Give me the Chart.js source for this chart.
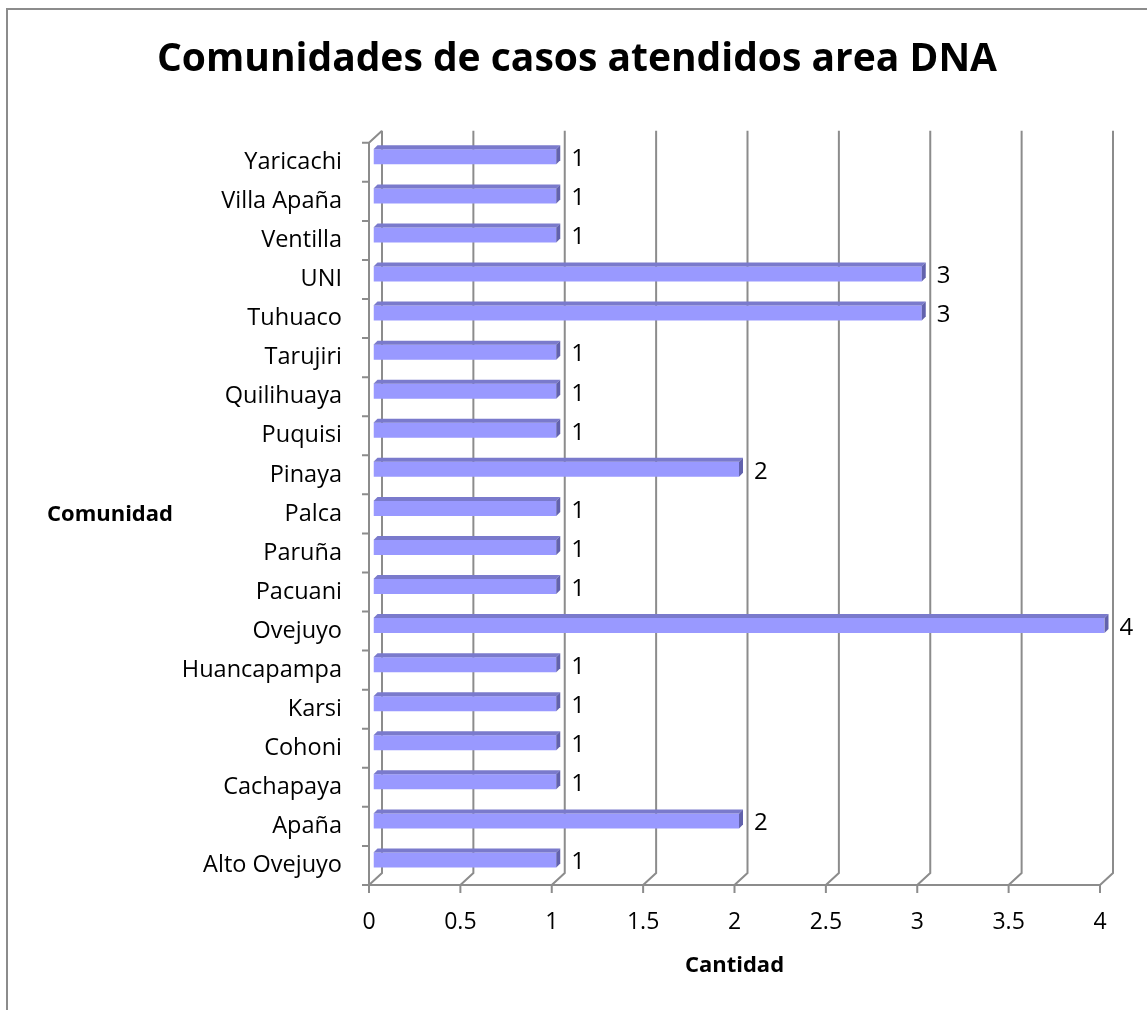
<!DOCTYPE html>
<html>
<head>
<meta charset="utf-8">
<script src="https://cdn.jsdelivr.net/npm/chart.js@4"></script>
<style>
    html, body { margin: 0; padding: 0; background: #fff; overflow: hidden; }
    #wrap { position: relative; width: 1147px; height: 1010px; }
    #frame {
        position: absolute; left: 6px; top: 8px; width: 1200px; height: 1100px;
        border-left: 2px solid #8c8c8c; border-top: 2px solid #8c8c8c;
    }
    canvas { position: absolute; left: 0; top: 0; }
</style>
</head>
<body>
<div id="wrap">
    <div id="frame"></div>
    <canvas id="dnaChart" width="1147" height="1010"></canvas>
</div>
<script>
// Datos (orden de abajo hacia arriba, como en la hoja)
const comunidades = ['Alto Ovejuyo', 'Apaña', 'Cachapaya', 'Cohoni', 'Karsi', 'Huancapampa',
    'Ovejuyo', 'Pacuani', 'Paruña', 'Palca', 'Pinaya', 'Puquisi', 'Quilihuaya',
    'Tarujiri', 'Tuhuaco', 'UNI', 'Ventilla', 'Villa Apaña', 'Yaricachi'];
const casos = [1, 2, 1, 1, 1, 1, 4, 1, 1, 1, 2, 1, 1, 1, 3, 3, 1, 1, 1];
const xTicks = [0, 0.5, 1, 1.5, 2, 2.5, 3, 3.5, 4];

const FONT = "'Open Sans', sans-serif";
const GRID = '#8c8c8c';
const DEPTH_X = 13, DEPTH_Y = 12;   // profundidad de la pared 3D
const BAR_DX = 4.5, BAR_DY = -5.5;  // barra a media profundidad
const FACE = 4;                     // grosor de la cara superior

// Paredes y lineas de division en falso 3D
const wallPlugin = {
    id: 'wall',
    beforeDatasetsDraw(chart) {
        const {ctx, chartArea: a, scales: {x}} = chart;
        ctx.save();
        ctx.strokeStyle = GRID;
        ctx.lineWidth = 2;
        ctx.beginPath();
        xTicks.forEach(v => {
            const px = x.getPixelForValue(v);
            ctx.moveTo(px + DEPTH_X, a.top - DEPTH_Y);
            ctx.lineTo(px + DEPTH_X, a.bottom - DEPTH_Y);
            ctx.lineTo(px, a.bottom);
            // marcas del eje
            ctx.moveTo(px, a.bottom);
            ctx.lineTo(px, a.bottom + 8);
        });
        // piso
        ctx.moveTo(a.left, a.bottom);
        ctx.lineTo(x.getPixelForValue(xTicks[xTicks.length - 1]), a.bottom);
        // eje vertical frontal
        ctx.moveTo(a.left, a.bottom);
        ctx.lineTo(a.left, a.top);
        ctx.lineTo(a.left + DEPTH_X, a.top - DEPTH_Y);
        // marcas de categorias
        const step = (a.bottom - a.top) / comunidades.length;
        for (let i = 0; i <= comunidades.length; i++) {
            const py = a.top + i * step;
            ctx.moveTo(a.left - 7, py);
            ctx.lineTo(a.left, py);
        }
        ctx.stroke();
        ctx.restore();

        ctx.save();
        ctx.translate(BAR_DX, BAR_DY);
    },
    afterDatasetsDraw(chart) {
        const {ctx} = chart;
        ctx.restore();
        const meta = chart.getDatasetMeta(0);
        ctx.save();
        meta.data.forEach((el, i) => {
            const {x, y, base, height} = el.getProps(['x', 'y', 'base', 'height'], true);
            const x0 = base + BAR_DX, x1 = x + BAR_DX;
            const top = y - height / 2 + BAR_DY, bot = y + height / 2 + BAR_DY;
            // cara superior
            ctx.fillStyle = '#7a7acc';
            ctx.beginPath();
            ctx.moveTo(x0, top);
            ctx.lineTo(x1, top);
            ctx.lineTo(x1 + FACE, top - FACE);
            ctx.lineTo(x0 + FACE, top - FACE);
            ctx.closePath();
            ctx.fill();
            // cara lateral
            ctx.fillStyle = '#6262ad';
            ctx.beginPath();
            ctx.moveTo(x1, top);
            ctx.lineTo(x1 + FACE, top - FACE);
            ctx.lineTo(x1 + FACE, bot - FACE);
            ctx.lineTo(x1, bot);
            ctx.closePath();
            ctx.fill();
            // etiqueta de valor
            ctx.fillStyle = '#000';
            ctx.font = '24px ' + FONT;
            ctx.textAlign = 'left';
            ctx.textBaseline = 'middle';
            ctx.fillText(String(casos[i]), x1 + 15, y - 3);
        });
        // titulo del eje vertical (horizontal, como en Excel)
        ctx.font = 'bold 22px ' + FONT;
        ctx.textAlign = 'center';
        ctx.fillStyle = '#000';
        ctx.fillText('Comunidad', 110, 515);
        ctx.restore();
    }
};

new Chart(document.getElementById('dnaChart'), {
    type: 'bar',
    data: {
        labels: comunidades,
        datasets: [{
            data: casos,
            backgroundColor: '#9999ff',
            borderWidth: 0,
            categoryPercentage: 1,
            barPercentage: 0.385
        }]
    },
    options: {
        indexAxis: 'y',
        responsive: false,
        animation: false,
        layout: { padding: { top: 0, right: 47, bottom: 0, left: 54 } },
        plugins: {
            legend: { display: false },
            tooltip: { enabled: false },
            title: {
                display: true,
                text: 'Comunidades de casos atendidos area DNA',
                color: '#000',
                font: { family: FONT, size: 39, weight: 'bold' },
                padding: { top: 36, bottom: 60 }
            }
        },
        scales: {
            x: {
                min: 0,
                max: 4,
                grid: { display: false },
                border: { display: false },
                afterFit: s => { s.height = 125; },
                afterBuildTicks: s => { s.ticks = xTicks.map(v => ({ value: v })); },
                ticks: {
                    color: '#000',
                    padding: 16,
                    font: { family: FONT, size: 23 },
                    callback: v => String(v)
                },
                title: {
                    display: true,
                    text: 'Cantidad',
                    color: '#000',
                    font: { family: FONT, size: 22, weight: 'bold' },
                    padding: { bottom: 31 }
                }
            },
            y: {
                reverse: true,
                grid: { display: false },
                border: { display: false },
                afterFit: s => { s.width = 315; },
                ticks: {
                    color: '#000',
                    padding: 19,
                    font: { family: FONT, size: 23.5 }
                }
            }
        }
    },
    plugins: [wallPlugin]
});
</script>
</body>
</html>
